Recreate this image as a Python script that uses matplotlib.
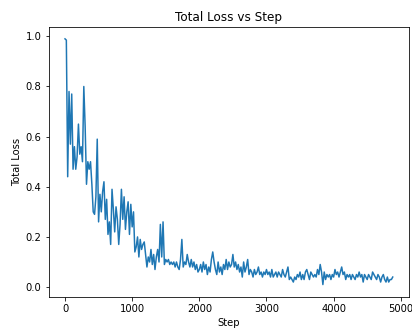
import matplotlib
matplotlib.use('Agg')
import matplotlib.pyplot as plt
import numpy as np

# training log, one point every 20 steps
steps = np.arange(0, 4881, 20)

loss_0 = [0.99, 0.985, 0.44, 0.78, 0.57, 0.77, 0.47, 0.56, 0.47, 0.52,
          0.65, 0.53, 0.56, 0.50, 0.80, 0.64, 0.41, 0.50, 0.47, 0.50,
          0.41, 0.30, 0.29, 0.36, 0.59, 0.26, 0.37, 0.30, 0.38, 0.42,
          0.27, 0.35, 0.21, 0.26, 0.17, 0.39, 0.31, 0.22, 0.32, 0.27,
          0.17, 0.25, 0.39, 0.27, 0.36, 0.23, 0.30, 0.34, 0.21, 0.33]
loss_1 = [0.24, 0.30, 0.14, 0.16, 0.20, 0.12, 0.19, 0.15, 0.17, 0.18,
          0.13, 0.08, 0.12, 0.10, 0.15, 0.09, 0.13, 0.07, 0.12, 0.15,
          0.10, 0.25, 0.12, 0.26, 0.09, 0.11, 0.10, 0.11, 0.09, 0.10,
          0.09, 0.10, 0.08, 0.10, 0.08, 0.07, 0.11, 0.19, 0.08, 0.10,
          0.09, 0.13, 0.10, 0.08, 0.11, 0.08, 0.10, 0.07, 0.09, 0.06]
loss_2 = [0.07, 0.09, 0.06, 0.10, 0.07, 0.09, 0.05, 0.08, 0.06, 0.11,
          0.14, 0.10, 0.07, 0.05, 0.10, 0.06, 0.08, 0.05, 0.09, 0.07,
          0.11, 0.07, 0.10, 0.08, 0.09, 0.13, 0.08, 0.10, 0.07, 0.09,
          0.06, 0.08, 0.04, 0.10, 0.06, 0.08, 0.11, 0.05, 0.07, 0.06,
          0.04, 0.07, 0.05, 0.06, 0.08, 0.05, 0.06, 0.04, 0.06, 0.05]
loss_3 = [0.07, 0.05, 0.06, 0.04, 0.07, 0.04, 0.05, 0.06, 0.04, 0.06,
          0.05, 0.04, 0.07, 0.05, 0.04, 0.06, 0.08, 0.03, 0.04, 0.03,
          0.02, 0.04, 0.03, 0.05, 0.04, 0.06, 0.03, 0.05, 0.03, 0.06,
          0.07, 0.05, 0.03, 0.06, 0.05, 0.04, 0.05, 0.04, 0.07, 0.05,
          0.09, 0.06, 0.01, 0.06, 0.03, 0.05, 0.04, 0.05, 0.03, 0.05]
loss_4 = [0.04, 0.07, 0.05, 0.06, 0.04, 0.06, 0.08, 0.05, 0.06, 0.03,
          0.05, 0.04, 0.05, 0.03, 0.05, 0.04, 0.03, 0.05, 0.04, 0.06,
          0.04, 0.05, 0.02, 0.05, 0.04, 0.03, 0.05, 0.04, 0.03, 0.06,
          0.05, 0.04, 0.03, 0.05, 0.04, 0.02, 0.04, 0.05, 0.03, 0.02,
          0.04, 0.02, 0.03, 0.03, 0.04]
total_loss = loss_0 + loss_1 + loss_2 + loss_3 + loss_4

fig = plt.figure(figsize=(412 / 72, 328 / 72), dpi=72)
ax = fig.add_subplot(111)
ax.plot(steps, total_loss, color='#1f77b4')
ax.set_title('Total Loss vs Step')
ax.set_xlabel('Step')
ax.set_ylabel('Total Loss')
fig.subplots_adjust(left=0.118, right=0.993, bottom=0.095, top=0.919)
fig.savefig('out.png', dpi=72)
